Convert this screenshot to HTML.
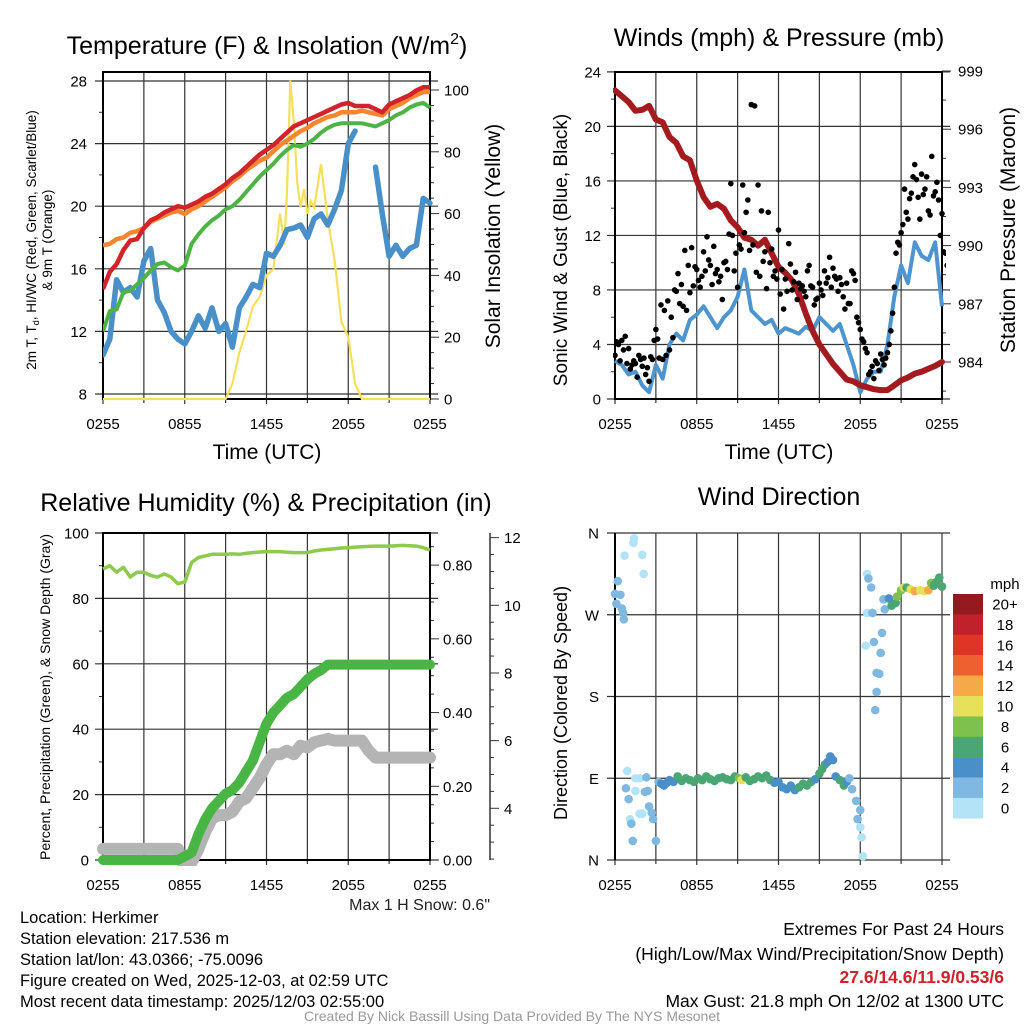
<!DOCTYPE html>
<html><head><meta charset="utf-8"><style>
body{margin:0;background:#fff;}
svg{display:block;font-family:"Liberation Sans",Arial,sans-serif;}
</style></head><body>
<svg id="s" width="1024" height="1024" viewBox="0 0 1024 1024" xmlns="http://www.w3.org/2000/svg">
<g font-size="25" text-anchor="middle" fill="#000">
<text x="267" y="54">Temperature (F) &amp; Insolation (W/m<tspan font-size="16" dy="-10">2</tspan><tspan dy="10">)</tspan></text>
<text x="779" y="46">Winds (mph) &amp; Pressure (mb)</text>
<text x="266" y="511">Relative Humidity (%) &amp; Precipitation (in)</text>
<text x="779" y="505">Wind Direction</text>
</g>
<g id="charts"></g>
<g fill="#000" text-anchor="middle">
<text x="267" y="459" font-size="21">Time (UTC)</text>
<text x="779" y="459" font-size="21">Time (UTC)</text>
<text transform="translate(36,240) rotate(-90)" font-size="13.5">2m T, T<tspan font-size="9" dy="3">d</tspan><tspan dy="-3">, HI/WC (Red, Green, Scarlet/Blue)</tspan></text>
<text transform="translate(52,240) rotate(-90)" font-size="13.5">&amp; 9m T (Orange)</text>
<text transform="translate(500,236) rotate(-90)" font-size="21">Solar Insolation (Yellow)</text>
<text transform="translate(567,250) rotate(-90)" font-size="19">Sonic Wind &amp; Gust (Blue, Black)</text>
<text transform="translate(1015,230) rotate(-90)" font-size="21">Station Pressure (Maroon)</text>
<text transform="translate(50,697) rotate(-90)" font-size="14">Percent, Precipitation (Green), &amp; Snow Depth (Gray)</text>
<text transform="translate(567,703) rotate(-90)" font-size="18">Direction (Colored By Speed)</text>
<text x="490" y="910" font-size="16" text-anchor="end" fill="#222">Max 1 H Snow: 0.6"</text>
</g>
<g font-size="16.5" fill="#000">
<text x="20" y="923">Location: Herkimer</text>
<text x="20" y="944">Station elevation: 217.536 m</text>
<text x="20" y="965">Station lat/lon: 43.0366; -75.0096</text>
<text x="20" y="986">Figure created on Wed, 2025-12-03, at 02:59 UTC</text>
<text x="20" y="1007">Most recent data timestamp: 2025/12/03 02:55:00</text>
</g>
<g font-size="17.5" fill="#000" text-anchor="end">
<text x="1004" y="935">Extremes For Past 24 Hours</text>
<text x="1004" y="960">(High/Low/Max Wind/Precipitation/Snow Depth)</text>
<text x="1004" y="983" fill="#d0202a" font-weight="bold">27.6/14.6/11.9/0.53/6</text>
<text x="1004" y="1007">Max Gust: 21.8 mph On 12/02 at 1300 UTC</text>
</g>
<text x="512" y="1021" font-size="14" fill="#999" text-anchor="middle">Created By Nick Bassill Using Data Provided By The NYS Mesonet</text>
</svg>
<script>
// ---- data ----
const hrs = [0,0.5,1,1.5,2,2.5,3,3.5,4,4.5,5,5.5,6,6.5,7,7.5,8,8.5,9,9.5,10,10.5,11,11.5,12,12.5,13,13.5,14,14.5,15,15.5,16,16.5,17,17.5,18,18.5,19,19.5,20,20.5,21,21.5,22,22.5,23,23.5,24];
const xTickLabels = ["0255","0855","1455","2055","0255"];
const tempRed = [14.7,15.8,16.3,17.2,17.8,17.9,18.6,19.1,19.3,19.6,19.8,20.0,19.9,20.1,20.3,20.6,20.8,21.1,21.4,21.8,22.1,22.5,22.9,23.3,23.6,23.9,24.3,24.7,25.1,25.3,25.5,25.7,25.9,26.1,26.3,26.5,26.6,26.4,26.4,26.4,26.2,26.0,26.5,26.7,26.9,27.1,27.4,27.6,27.6];
const temp9m = [17.5,17.6,17.9,18.0,18.3,18.4,18.6,19.0,19.2,19.4,19.6,19.7,19.5,19.8,20.0,20.3,20.6,20.9,21.2,21.6,21.9,22.3,22.6,22.9,23.1,23.5,23.9,24.2,24.5,24.8,25.0,25.3,25.5,25.7,25.8,26.0,26.0,26.0,26.1,26.0,25.9,25.8,26.2,26.4,26.6,26.9,27.1,27.3,27.3];
const heatIdx = [12.0,13.3,13.4,14.5,14.6,15.0,15.4,15.9,16.3,16.4,16.1,15.9,16.2,17.6,18.2,18.7,19.1,19.4,19.8,20.0,20.4,20.9,21.4,21.9,22.3,22.7,23.2,23.6,23.9,23.8,24.0,24.3,24.7,25.0,25.2,25.3,25.3,25.3,25.3,25.2,25.1,25.3,25.5,25.8,26.0,26.3,26.5,26.6,26.3];
const dewPt = [10.5,11.5,15.3,14.5,14.8,14.2,16.5,17.3,14.0,13.2,12.0,11.5,11.2,12.0,13.0,12.2,13.5,12.0,12.5,11.0,13.5,14.2,15.0,14.8,17.0,16.8,17.5,18.5,18.6,18.8,18.0,19.2,19.5,18.8,19.8,21.0,24.0,24.8,null,null,22.5,19.5,16.8,17.5,16.8,17.3,17.5,20.5,20.2];
const solarHrs = [0,9,9.5,10,10.5,11,11.5,12,12.5,13,13.3,13.5,13.75,14,14.25,14.5,14.75,15,15.25,15.5,16,16.5,17,17.5,18,18.5,19,24];
const solar = [0,0,5,15,22,30,33,40,42,60,50,66,103,90,70,62,68,60,64,62,76,58,45,25,20,5,0,0];
const pressure = [998.0,997.7,997.4,996.95,997.0,997.2,996.5,996.35,995.6,995.3,994.6,994.4,993.35,992.5,992.0,992.15,991.9,991.3,990.95,990.4,990.3,990.0,990.3,989.6,988.9,988.6,988.2,987.5,986.5,985.6,984.9,984.4,983.9,983.5,983.1,983.0,982.8,982.7,982.6,982.55,982.55,982.8,983.05,983.2,983.4,983.5,983.65,983.8,984.0];
const sonicWind = [2.8,2.5,1.8,2.0,1.0,0.5,2.5,1.5,4.0,4.8,4.3,5.8,6.2,6.8,6.0,5.2,6.0,6.5,7.5,9.5,6.5,6.0,5.5,5.8,4.8,5.2,5.0,4.8,5.3,5.0,6.0,5.5,5.0,5.5,4.0,2.5,0.5,1.5,2.0,2.0,4.0,7.5,9.8,8.5,11.5,10.5,10.2,11.5,6.8];
const gustA = [3.2,4.0,4.3,4.6,3.7,2.5,2.6,3.2,2.4,1.8,1.3,2.9,5.1,3.0,2.9,3.2,3.6,4.5,7.9,7.0,6.8,6.5,7.8,8.3,9.5,8.2,10.8,11.9,9.8,11.2,9.5,9.0,10.0,9.5,15.8,9.4,8.2,11.0,12.2,14.6,21.6,21.5,15.7,13.8,10.8,13.7,11.0,9.4,12.4,9.5,8.8,11.4,8.0,9.3,8.5,8.3,7.5,9.8,8.2,7.3,8.5,7.6,8.5,10.4,9.6,8.8,8.9,7.5,8.5,7.0,9.2,6.0,5.1,4.2,3.4,2.0,1.5,2.6,3.3,2.5,3.4,5.0,8.2,11.5,12.2,15.4,13.2,15.1,17.2,14.8,16.5,15.4,13.8,17.8,15.2,14.6,13.6,10.7,11.5];
const gustB = [4.2,2.8,3.6,2.6,2.2,2.8,1.6,2.9,3.0,2.3,3.1,4.3,4.4,6.9,6.5,7.2,6.0,8.0,9.2,8.4,10.9,9.8,11.1,9.7,8.7,9.0,9.4,10.2,8.4,9.2,8.6,7.3,10.1,12.1,12.0,10.7,11.3,15.7,13.7,10.9,11.3,9.3,9.0,10.1,8.1,10.0,9.0,8.8,7.7,6.6,7.9,9.9,8.6,7.3,8.1,7.9,9.4,8.3,6.9,7.4,8.0,9.4,8.9,8.2,9.0,7.9,8.4,6.6,7.0,9.4,8.7,5.6,4.4,3.7,1.8,2.4,2.8,2.1,2.9,3.0,4.0,6.3,10.7,11.3,12.8,13.7,14.7,16.3,16.1,13.2,15.0,16.3,13.5,14.9,15.9,12.0,10.8,9.8,10.6];
const rh = [89,90,88,89.5,86.5,88,88,87,86.5,87.5,86.5,84.5,85,91,92.5,93,93.5,93.5,93.5,93.6,93.5,93.8,94,94.2,94.3,94.3,94.3,94.1,94,94,94,94.5,94.8,95,95.2,95.4,95.5,95.7,95.8,95.9,96,96,96,96.1,96.2,96.1,96,95.5,94.8];
const precip = [0,0,0,0,0,0,0,0,0,0,0,0,0.01,0.02,0.07,0.11,0.14,0.16,0.18,0.19,0.21,0.24,0.27,0.32,0.37,0.40,0.42,0.44,0.45,0.47,0.49,0.505,0.515,0.53,0.53,0.53,0.53,0.53,0.53,0.53,0.53,0.53,0.53,0.53,0.53,0.53,0.53,0.53,0.53];
const snow = [2.8,2.8,2.8,2.8,2.8,2.8,2.8,2.8,2.8,2.8,2.8,2.8,2.2,2.4,2.8,3.3,3.7,3.8,3.8,3.9,4.2,4.3,4.6,4.9,5.3,5.6,5.6,5.7,5.6,5.85,5.8,5.95,6.0,6.05,6.0,6.0,6.0,6.0,6.0,5.7,5.5,5.5,5.5,5.5,5.5,5.5,5.5,5.5,5.5];
const dirHrs = [0,0.2,0.4,0.1,0.5,0.6,0.65,0.7,1.4,1.35,2.0,2.1,0.9,0.8,1.5,2.4,1.5,1.8,2.3,2.2,1.0,1.1,1.2,1.3,1.8,2.0,2.5,2.7,2.8,3.0,3.2,3.4,3.6,3.8,4.0,4.3,4.6,4.9,5.2,5.5,5.8,6.1,6.4,6.7,7.0,7.3,7.6,7.9,8.2,8.5,8.8,9.1,9.3,9.6,9.9,10.2,10.5,10.8,11.1,11.4,11.7,12.0,12.3,12.6,12.9,13.2,13.5,13.8,14.1,14.4,14.7,15.0,15.2,15.4,15.6,15.8,16.0,16.2,16.5,16.8,17.0,17.2,17.4,17.7,18.0,17.8,18.0,18.1,18.2,18.5,18.6,18.8,18.5,18.9,18.4,19.0,19.6,19.5,19.2,19.4,19.2,19.1,19.7,20.1,19.8,20.3,20.6,20.7,21.0,21.2,21.4,21.7,22.0,22.4,22.7,23.0,23.2,23.4,23.6,23.8,24.0];
const dirDeg = [293,307,292,282,277,272,265,335,354,349,336,315,98,79,76,76,90,90,91,75,67,45,40,21,51,51,59,52,45,21,86,84,82,85,88,86,92,87,90,88,86,90,88,92,89,87,90,91,89,88,92,90,88,91,87,89,92,90,93,88,85,86,80,78,82,77,80,84,82,86,89,95,100,105,108,114,110,92,88,82,86,90,78,65,55,45,36,25,4,315,310,300,272,272,236,240,250,228,206,205,185,165,287,288,276,280,283,290,297,300,300,298,296,297,296,297,305,302,306,311,301];
const dirSpd = [3,3,3,3,3,3,3,0,0,0,0,0,0,2,1,2,1,0,2,2,2,1,2,2,0,0,2,2,2,2,3,4,4,4,4,5,6,7,6,7,6,7,6,6,7,6,7,6,6,7,6,8,10,6,7,6,7,6,7,6,4,4,4,5,4,4,6,6,7,6,4,6,6,6,5,4,4,4,6,6,4,2,2,2,2,2,1,0,0,0,2,2,0,2,0,2,2,2,2,2,2,2,2,4,2,6,6,8,8,10,6,10,12,10,10,12,8,6,6,6,6];
const cbLabels = ["20+","18","16","14","12","10","8","6","4","2","0"];
const cbColors = ["#931b1d","#c0212a","#de3527","#ef6030","#f5a947","#e6e05a","#7ec14c","#4aa672","#4a8fc7","#7fb8e0","#b3e3f7"];

// ---- helpers ----
const NS="http://www.w3.org/2000/svg";
const root=document.getElementById('charts');
function mk(tag,attrs,parent){const e=document.createElementNS(NS,tag);for(const k in attrs)e.setAttribute(k,attrs[k]);(parent||root).appendChild(e);return e;}
function pathD(xs,ys,fx,fy){let d='',pen=false;for(let i=0;i<xs.length;i++){if(ys[i]===null){pen=false;continue;}d+=(pen?'L':'M')+fx(xs[i]).toFixed(1)+' '+fy(ys[i]).toFixed(1);pen=true;}return d;}
function frame(L,R,T,B,id){
  const g=mk('g',{});
  
  
  for(let i=0;i<=8;i++){const x=L+(R-L)*i/8;const ln=mk('line',{x1:x,x2:x,y1:T-0,y2:B+(i%2==0?5:4),stroke:'#333','stroke-width':1.2},g);
    
    }
  for(let i=0;i<5;i++){const x=L+(R-L)*i/4;const t=mk('text',{x:x,y:B+30,'font-size':15,'text-anchor':'middle'},g);t.textContent=xTickLabels[i];
    
    }
  return g;
}
function hline(g,L,R,y,ext){const l=mk('line',{x1:L-ext,x2:R+ext,y1:y,y2:y,stroke:'#333','stroke-width':1.2},g);
  
  }
function ytext(g,x,y,s,anchor){const t=mk('text',{x:x,y:y+5.5,'font-size':15,'text-anchor':anchor},g);t.textContent=s;
  
  }
function box(g,L,R,T,B){const r=mk('rect',{x:L,y:T,width:R-L,height:B-T,fill:'none',stroke:'#000','stroke-width':2},g);
  
  }
function minor(g,x,y,len){mk('line',{x1:x,x2:x+len,y1:y,y2:y,stroke:'#333','stroke-width':1},g);}

// ---- Panel 1 ----
(function(){
const L=103,R=430,T=72,B=399;
const fx=h=>L+h/24*(R-L);
const fy=v=>394-(v-8)*15.65;
const fs=v=>399-v*3.09;
const g=frame(L,R,T,B,'p1');
[8,12,16,20,24,28].forEach(v=>{hline(g,L,R,fy(v),8);ytext(g,L-16,fy(v),String(v),'end');});
[0,20,40,60,80,100].forEach(v=>{mk('line',{x1:R,x2:R+9,y1:fs(v),y2:fs(v),stroke:'#333'},g);ytext(g,R+14,fs(v),String(v),'start');});
for(let v=10;v<=30;v+=4){minor(g,L-4,fy(v),4);}
for(let v=5;v<105;v+=5){if(v%20)minor(g,R,fs(v),4);}
box(g,L,R,T,B);
const clip=mk('clipPath',{id:'c1'});mk('rect',{x:L,y:T-20,width:R-L+4,height:B-T+22},clip);
const s=mk('g',{'clip-path':'url(#c1)'});
const sol=mk('path',{d:pathD(solarHrs,solar,fx,fs),fill:'none',stroke:'#f6e05a','stroke-width':2.2},s);


const dp=mk('path',{d:pathD(hrs,dewPt,fx,fy),fill:'none',stroke:'#4a90c8','stroke-width':5.5,'stroke-linejoin':'round','stroke-linecap':'round'},s);


const hi=mk('path',{d:pathD(hrs,heatIdx,fx,fy),fill:'none',stroke:'#4db444','stroke-width':4,'stroke-linejoin':'round'},s);


const t9=mk('path',{d:pathD(hrs,temp9m,fx,fy),fill:'none',stroke:'#f7862f','stroke-width':4.5,'stroke-linejoin':'round'},s);


const tr=mk('path',{d:pathD(hrs,tempRed,fx,fy),fill:'none',stroke:'#d3222a','stroke-width':4.5,'stroke-linejoin':'round'},s);


})();

// ---- Panel 2 ----
(function(){
const L=615,R=942,T=72,B=399;
const fx=h=>L+h/24*(R-L);
const fy=v=>B-v*13.63;
const fp=p=>362-(p-984)*19.4;
const g=frame(L,R,T,B,'p2');
[0,4,8,12,16,20,24].forEach(v=>{hline(g,L,R,fy(v),8);ytext(g,L-14,fy(v),String(v),'end');});
[984,987,990,993,996,999].forEach(v=>{mk('line',{x1:R,x2:R+9,y1:fp(v),y2:fp(v),stroke:'#333'},g);ytext(g,R+16,fp(v),String(v),'start');});
for(let v=2;v<24;v+=4)minor(g,L-4,fy(v),4);
for(let v=982.5;v<999;v+=1.5){if((v-984)%3)minor(g,R,fp(v),4);}
box(g,L,R,T,B);
const clip=mk('clipPath',{id:'c2'});mk('rect',{x:L-2,y:T-5,width:R-L+6,height:B-T+7},clip);
const s=mk('g',{'clip-path':'url(#c2)'});
const sw=mk('path',{d:pathD(hrs,sonicWind,fx,fy),fill:'none',stroke:'#4e95cf','stroke-width':4,'stroke-linejoin':'round'},s);


const pr=mk('path',{d:pathD(hrs,pressure,fx,fp),fill:'none',stroke:'#a31b1e','stroke-width':6,'stroke-linejoin':'round','stroke-linecap':'round'},s);


gustA.forEach((v,i)=>{const c=mk('circle',{cx:fx(i*0.25),cy:fy(v),r:2.8,fill:'#000'},s);
  
  });
gustB.forEach((v,i)=>{const c=mk('circle',{cx:fx(i*0.25+0.125),cy:fy(v),r:2.8,fill:'#000'},s);
  
  });
})();

// ---- Panel 3 ----
(function(){
const L=103,R=430,T=533,B=860;
const fx=h=>L+h/24*(R-L);
const fy=v=>B-v*3.27;
const fpr=p=>B-p*368.6;
const fsn=s=>808.3-(s-4)*33.83;
const g=frame(L,R,T,B,'p3');
[0,20,40,60,80,100].forEach(v=>{hline(g,L,R,fy(v),8);ytext(g,L-14,fy(v),String(v),'end');});
[0,0.2,0.4,0.6,0.8].forEach(v=>{mk('line',{x1:R,x2:R+9,y1:fpr(v),y2:fpr(v),stroke:'#333'},g);ytext(g,R+13,fpr(v),v.toFixed(2),'start');});
for(let v=10;v<100;v+=20)minor(g,L-4,fy(v),4);
for(let v=0.05;v<0.88;v+=0.05){if(Math.round(v*100)%20)minor(g,R,fpr(v),4);}
mk('line',{x1:490,x2:490,y1:T,y2:B,stroke:'#333','stroke-width':1.5},g);
[4,6,8,10,12].forEach(v=>{mk('line',{x1:490,x2:499,y1:fsn(v),y2:fsn(v),stroke:'#333'},g);ytext(g,504,fsn(v),String(v),'start');});
for(let v=2.5;v<12.2;v+=0.5){if(v%2)minor(g,490,fsn(v),4);}
box(g,L,R,T,B);
const clip=mk('clipPath',{id:'c3'});mk('rect',{x:L-8,y:T,width:R-L+16,height:B-T+6},clip);
const s=mk('g',{'clip-path':'url(#c3)'});
const sn=mk('path',{d:pathD(hrs,snow,fx,fsn),fill:'none',stroke:'#b4b4b4','stroke-width':12,'stroke-linejoin':'round','stroke-linecap':'round'},s);


const pc=mk('path',{d:pathD(hrs,precip,fx,fpr),fill:'none',stroke:'#48b544','stroke-width':10,'stroke-linejoin':'round','stroke-linecap':'round'},s);


const r=mk('path',{d:pathD(hrs,rh,fx,fy),fill:'none',stroke:'#8dca4d','stroke-width':3.5,'stroke-linejoin':'round'},s);


})();

// ---- Panel 4 ----
(function(){
const L=615,R=942,T=533,B=860;
const fx=h=>L+h/24*(R-L);
const fy=d=>B-d/360*(B-T);
const g=frame(L,R,T,B,'p4');
[[0,'N'],[90,'E'],[180,'S'],[270,'W'],[360,'N']].forEach(([d,l])=>{hline(g,L,R,fy(d),8);ytext(g,L-16,fy(d),l,'end');});
mk('line',{x1:L,x2:L,y1:T,y2:B,stroke:'#000','stroke-width':2},g);
const s=mk('g',{});
dirHrs.forEach((h,i)=>{const bin=Math.min(10,Math.floor(dirSpd[i]/2));
  const c=mk('circle',{cx:fx(h),cy:fy(dirDeg[i]),r:4.3,fill:cbColors[10-bin]},s);
  
  });
const cb=mk('g',{});


const t=mk('text',{x:1005,y:589,'font-size':15,'text-anchor':'middle'},cb);t.textContent='mph';
cbColors.forEach((c,i)=>{const y=594+i*20.4;const r=mk('rect',{x:953,y:y,width:30,height:20.6,fill:c},cb);
  
  
  const tx=mk('text',{x:1005,y:y+15.5,'font-size':15,'text-anchor':'middle'},cb);tx.textContent=cbLabels[i];
  
  });
})();
</script>
</body></html>
